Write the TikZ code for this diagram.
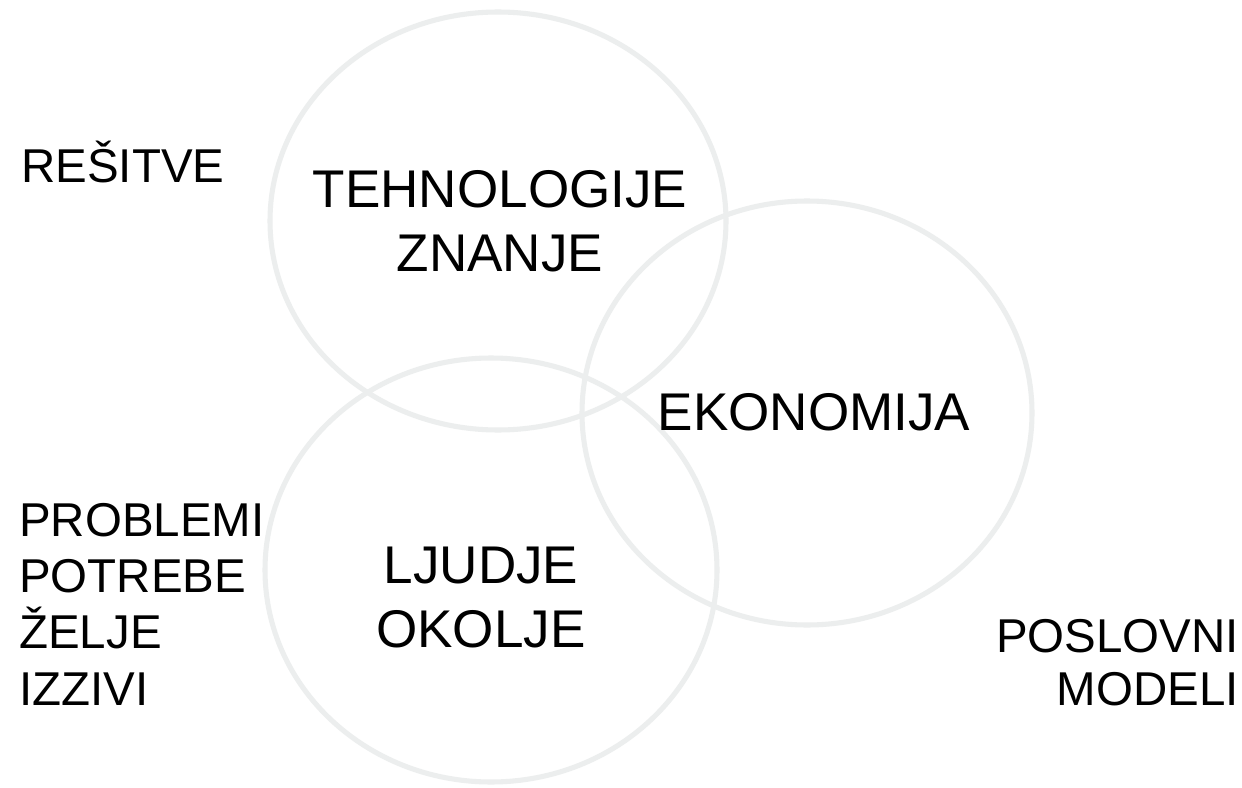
\documentclass[tikz,border=0pt]{standalone}
\usepackage{fontspec}
\setmainfont{Liberation Sans}
\definecolor{ringgray}{RGB}{236,238,238}
\begin{document}
\begin{tikzpicture}[x=0.75pt,y=-0.75pt,
  ring/.style={draw=ringgray,line width=3.8pt},
  big/.style={anchor=base,inner sep=0pt,font=\fontsize{39.8}{48}\selectfont},
  side/.style={anchor=base west,inner sep=0pt,font=\fontsize{35.6}{42}\selectfont},
  sider/.style={anchor=base east,inner sep=0pt,font=\fontsize{35.6}{42}\selectfont}]
\useasboundingbox[fill=white] (0,0) rectangle (1242,788);
% rings
\draw[ring] (498,221) ellipse [x radius=171pt, y radius=156.75pt];
\draw[ring] (807,413) ellipse [x radius=168.75pt, y radius=159pt];
\draw[ring] (491,570) ellipse [x radius=169.5pt, y radius=159pt];
% centre labels
\node[big] (tehno) at (500,207) {TEHNOLOGIJE};
\node[big] (znanje) at (500,271) {ZNANJE};
\node[big] (ekon) at (814,430) {EKONOMIJA};
\node[big] (ljudje) at (481,583) {LJUDJE};
\node[big] (okolje) at (481,647) {OKOLJE};
% side labels
\node[side] (resitve) at (21,183) {REŠITVE};
\node[side] (problemi) at (19,536) {PROBLEMI};
\node[side] (potrebe) at (19,592) {POTREBE};
\node[side] (zelje) at (19,648) {ŽELJE};
\node[side] (izzivi) at (19,705) {IZZIVI};
\node[sider] (poslovni) at (1239,652) {POSLOVNI};
\node[sider] (modeli) at (1239,705) {MODELI};
\end{tikzpicture}
\end{document}
